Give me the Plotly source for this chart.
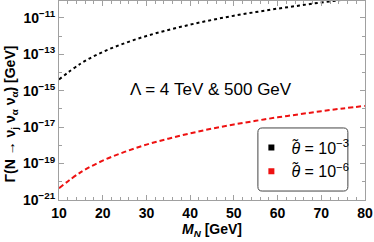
import plotly.graph_objects as go

M_N = [10, 15, 20, 25, 30, 35, 40, 45, 50, 55, 60, 65, 70, 75, 80]
gamma_theta_1e3 = [4.17e-15, 3.16e-14, 1.35e-13, 4.07e-13, 1.02e-12, 2.19e-12, 4.27e-12,
                   7.76e-12, 1.32e-11, 2.09e-11, 3.24e-11, 4.79e-11, 7.08e-11, 1.0e-10, 1.38e-10]
gamma_theta_1e6 = [4.47e-21, 3.39e-20, 1.45e-19, 4.37e-19, 1.10e-18, 2.34e-18, 4.57e-18,
                   8.32e-18, 1.41e-17, 2.24e-17, 3.47e-17, 5.13e-17, 7.59e-17, 1.07e-16, 1.48e-16]
y_tickvals = [1e-21, 1e-19, 1e-17, 1e-15, 1e-13, 1e-11]
y_ticktext = ["10<sup>−21</sup>", "10<sup>−19</sup>", "10<sup>−17</sup>",
              "10<sup>−15</sup>", "10<sup>−13</sup>", "10<sup>−11</sup>"]
x_tickvals = [10, 20, 30, 40, 50, 60, 70, 80]
series_names = ["<i>θ̃</i> = 10<sup>−3</sup>", "<i>θ̃</i> = 10<sup>−6</sup>"]

FONT = "Liberation Sans, Arial, sans-serif"
fig = go.Figure()
fig.add_trace(go.Scatter(x=M_N, y=gamma_theta_1e3, mode="lines", showlegend=False,
                         line=dict(color="black", width=2, dash="dot", shape="spline")))
fig.add_trace(go.Scatter(x=M_N, y=gamma_theta_1e6, mode="lines", showlegend=False,
                         line=dict(color="#ee1111", width=2, dash="5px,3px", shape="spline")))
for name, col in zip(series_names, ["black", "#ee1111"]):
    fig.add_trace(go.Scatter(x=[None], y=[None], mode="markers", name=name,
                             marker=dict(symbol="square", size=6, color=col)))

fig.add_annotation(x=0.498, y=0.555, xref="paper", yref="paper",
                   text="Λ = 4 TeV & 500 GeV", showarrow=False,
                   font=dict(family=FONT, size=17, color="black"))

# y-axis title
fig.add_annotation(x=0, y=0.43, xref="paper", yref="paper", xshift=-48,
                   text="Γ(N → ν<sub>j</sub> ν<sub>α</sub> ν<sub>α</sub>) [GeV]",
                   textangle=-90, showarrow=False, xanchor="center", yanchor="middle",
                   font=dict(family=FONT, size=14, color="black", weight="bold"))

# rounded legend frame
x0, x1, y0, y1, rx, ry = 0.650, 0.944, 0.045, 0.362, 0.014, 0.022
path = (f"M {x0+rx},{y0} L {x1-rx},{y0} Q {x1},{y0} {x1},{y0+ry} "
        f"L {x1},{y1-ry} Q {x1},{y1} {x1-rx},{y1} L {x0+rx},{y1} "
        f"Q {x0},{y1} {x0},{y1-ry} L {x0},{y0+ry} Q {x0},{y0} {x0+rx},{y0} Z")
fig.add_shape(type="path", path=path, xref="paper", yref="paper",
              line=dict(color="#444", width=1), fillcolor="white")

axis_common = dict(showline=True, linecolor="#a0a0a0", linewidth=1, mirror="ticks",
                   ticks="inside", ticklen=5, tickcolor="#a0a0a0", showgrid=False,
                   zeroline=False, automargin=False,
                   tickfont=dict(family=FONT, size=14, color="black", weight="bold"))
fig.update_xaxes(range=[10, 80], tickvals=x_tickvals, ticklabelstandoff=0,
                 title=dict(text="<i>M<sub>N</sub></i> [GeV]", standoff=0,
                            font=dict(family=FONT, size=14, color="black", weight="bold")),
                 minor=dict(dtick=2, ticks="inside", ticklen=3, tickcolor="#a0a0a0"),
                 **axis_common)
fig.update_yaxes(type="log", range=[-21, -10.07], tickvals=y_tickvals, ticktext=y_ticktext,
                 ticklabelstandoff=0,
                 minor=dict(tickvals=[1e-20, 1e-18, 1e-16, 1e-14, 1e-12, 1e-10],
                            ticks="inside", ticklen=3, tickcolor="#a0a0a0"),
                 **axis_common)
fig.update_layout(width=374, height=242, margin=dict(l=59, r=9, t=1, b=42, autoexpand=False),
                  plot_bgcolor="white", paper_bgcolor="white",
                  legend=dict(x=0.797, y=0.2035, xanchor="center", yanchor="middle",
                              borderwidth=0, bgcolor="rgba(0,0,0,0)",
                              font=dict(family=FONT, size=16, color="black"),
                              itemwidth=30, tracegroupgap=0))
fig.write_html("out.html", config={"displayModeBar": False},
               post_script="document.body.style.margin='0';document.body.style.overflow='hidden';")
